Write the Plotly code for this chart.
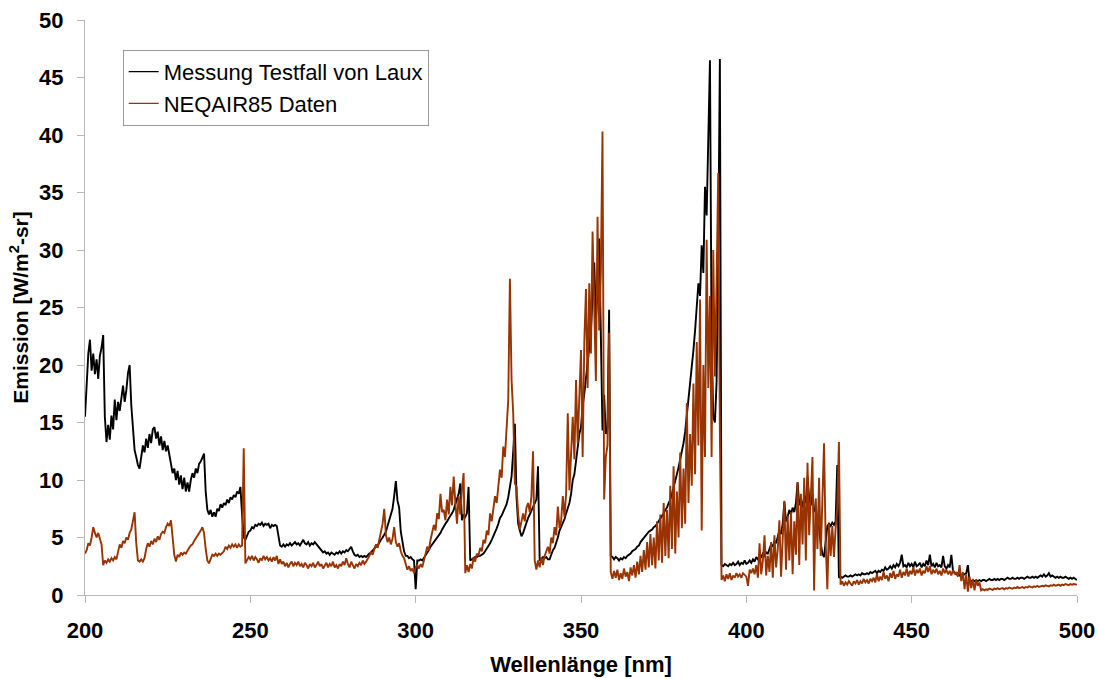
import numpy as np
import plotly.graph_objects as go

# Wavelength grid of both spectra (nm), 0.5 nm spacing
wellenlaenge = np.round(np.arange(200.0, 500.25, 0.5), 1)

# Measured emission, test case by Laux (W/m^2-sr)
messung_laux = [
    15.5, 19.0, 21.0, 22.2, 19.5, 21.0, 19.2, 20.5, 18.8, 20.8, 21.5, 22.6, 15.5, 13.3, 14.8, 13.5, 15.6, 14.4, 17.0, 15.2,  # 200
    16.8, 16.0, 17.4, 18.2, 16.8, 17.8, 19.3, 20.0, 16.5, 14.5, 12.6, 12.0, 11.3, 11.0, 12.2, 13.0, 12.4, 13.6, 12.8, 14.0,  # 210
    13.2, 14.4, 14.6, 13.6, 14.2, 13.0, 13.8, 12.6, 13.4, 12.5, 13.0, 12.3, 11.5, 10.6, 11.0, 10.0, 10.8, 9.6, 10.4, 9.2,    # 220
    10.2, 9.0, 9.8, 9.0, 10.0, 10.6, 10.2, 11.0, 10.6, 11.4, 11.6, 12.0, 12.3, 9.0, 7.4, 7.0, 7.4, 6.8, 7.2, 6.8,            # 230
    7.5, 7.3, 7.9, 7.6, 8.0, 7.8, 8.3, 8.0, 8.5, 8.3, 8.7, 8.5, 9.0, 8.8, 9.4, 7.0, 5.0, 4.8, 5.2, 5.5,                      # 240
    5.6, 5.9, 5.8, 6.1, 6.0, 6.2, 6.1, 6.3, 6.0, 6.2, 6.1, 6.2, 5.8, 6.1, 6.0, 6.1, 6.0, 5.2, 4.3, 4.2,                      # 250
    4.4, 4.2, 4.4, 4.3, 4.5, 4.3, 4.5, 4.6, 4.4, 4.5, 4.3, 4.6, 4.8, 4.5, 4.4, 4.6, 4.3, 4.5, 4.4, 4.6,                      # 260
    4.4, 4.3, 4.1, 3.9, 3.7, 3.8, 3.6, 3.7, 3.5, 3.7, 3.6, 3.5, 3.7, 3.6, 3.8, 3.6, 3.8, 3.7, 3.9, 3.8,                      # 270
    4.0, 4.2, 3.8, 3.5, 3.4, 3.5, 3.3, 3.4, 3.3, 3.4, 3.3, 3.5, 3.6, 3.7, 3.9, 4.0, 4.2, 4.3, 4.6, 4.8,                      # 280
    5.0, 5.2, 5.5, 6.0, 6.5, 7.0, 7.5, 8.6, 9.9, 8.2, 7.6, 5.5, 4.6, 3.8, 3.4, 3.4, 3.2, 3.3, 3.1, 3.0,                      # 290
    0.5, 3.0, 3.0, 3.1, 3.0, 3.2, 3.4, 3.6, 3.9, 4.2, 4.4, 4.5, 4.7, 4.9, 5.1, 5.4, 5.7, 6.0, 6.2, 6.4,                      # 300
    6.7, 6.9, 7.1, 7.4, 7.9, 8.3, 8.8, 9.7, 6.5, 7.0, 6.8, 7.1, 9.4, 3.0, 3.1, 3.2, 3.3, 3.3, 3.4, 3.4,                      # 310
    3.5, 3.6, 3.8, 4.0, 4.3, 4.5, 4.8, 5.1, 5.4, 5.8, 6.2, 6.7, 6.9, 7.2, 7.6, 7.9, 8.5, 9.3, 10.3, 12.5,                    # 320
    14.9, 8.5, 6.2, 5.6, 5.1, 5.4, 5.9, 6.4, 6.7, 7.0, 7.3, 7.6, 7.9, 8.3, 11.2, 3.0, 3.1, 3.3, 3.2, 3.3,                    # 330
    3.1, 3.1, 3.5, 3.9, 4.1, 4.5, 5.0, 5.6, 5.9, 6.3, 6.6, 7.1, 7.5, 8.0, 8.8, 10.0, 10.5, 11.8, 12.8, 14.0,                 # 340
    14.6, 16.5, 17.5, 18.8, 19.6, 21.5, 23.0, 26.0, 28.9, 24.0, 26.5, 31.0, 22.0, 14.3, 17.4, 14.0, 14.5, 24.8, 3.4, 3.3,   # 350
    3.1, 3.3, 3.2, 3.0, 3.2, 3.1, 3.3, 3.2, 3.4, 3.5, 3.6, 3.8, 3.9, 4.0, 4.2, 4.3, 4.6, 4.8, 5.0, 5.2,                      # 360
    5.3, 5.5, 5.6, 5.7, 5.9, 6.0, 6.2, 6.4, 6.6, 6.9, 7.1, 7.4, 7.6, 8.0, 8.3, 8.8, 9.3, 9.9, 10.5, 11.1,                    # 370
    11.8, 12.4, 13.2, 14.2, 15.5, 17.0, 18.6, 19.5, 21.3, 23.0, 25.0, 27.1, 26.0, 30.4, 28.0, 35.5, 33.0, 40.0, 46.5, 22.0, # 380
    15.5, 15.0, 18.5, 30.0, 46.6, 2.6, 2.5, 2.7, 2.6, 2.5, 2.7, 2.6, 2.8, 2.6, 2.7, 2.9, 2.6, 2.8, 2.7, 3.0,                 # 390
    2.7, 2.8, 3.0, 2.8, 3.1, 2.9, 3.3, 3.1, 3.4, 3.3, 3.6, 3.4, 3.7, 3.6, 4.0, 4.4, 4.2, 4.7, 4.5, 5.0,                      # 400
    5.6, 5.3, 6.2, 8.1, 6.4, 6.8, 7.4, 7.0, 7.6, 7.2, 8.0, 9.8, 7.8, 8.3, 7.6, 8.6, 8.0, 10.3, 8.4, 7.8,                     # 410
    8.8, 7.4, 7.2, 6.6, 5.8, 4.5, 3.6, 3.3, 5.0, 6.0, 6.2, 6.0, 6.3, 6.1, 6.4, 11.3, 1.5, 1.6, 1.5, 1.6,                     # 420
    1.7, 1.6, 1.6, 1.7, 1.6, 1.7, 1.8, 1.7, 1.8, 1.7, 1.9, 1.8, 1.8, 1.9, 1.8, 2.0, 1.9, 2.0, 2.1, 1.9,                      # 430
    2.1, 2.0, 2.2, 2.1, 2.4, 2.2, 2.3, 2.5, 2.3, 2.6, 2.4, 2.7, 2.5, 2.8, 3.5, 2.5, 2.6, 2.4, 2.8, 2.5,                      # 440
    2.7, 2.4, 2.9, 2.5, 2.6, 2.8, 2.4, 2.7, 2.5, 3.0, 2.6, 3.5, 2.5, 2.7, 2.4, 2.8, 2.5, 2.6, 2.4, 3.4,                      # 450
    2.5, 2.3, 2.6, 2.4, 3.5, 2.1, 1.9, 1.8, 1.9, 1.7, 1.8, 1.7, 1.8, 1.9, 2.6, 1.2, 1.2, 1.3, 1.2, 1.3,                      # 460
    1.2, 1.3, 1.2, 1.3, 1.3, 1.2, 1.3, 1.4, 1.3, 1.3, 1.4, 1.3, 1.4, 1.3, 1.4, 1.4, 1.3, 1.4, 1.5, 1.4,                      # 470
    1.4, 1.5, 1.4, 1.4, 1.5, 1.4, 1.5, 1.5, 1.4, 1.5, 1.6, 1.5, 1.5, 1.6, 1.5, 1.6, 1.5, 1.6, 1.7, 1.6,                      # 480
    1.8, 1.6, 1.7, 1.9, 1.6, 1.7, 1.6, 1.5, 1.6, 1.5, 1.6, 1.5, 1.5, 1.6, 1.5, 1.4, 1.5, 1.4, 1.5, 1.4,                      # 490
    1.3,                                                                                                                     # 500
]

# NEQAIR85 computed emission (W/m^2-sr)
neqair85 = [
    3.6, 3.9, 4.5, 4.3, 5.0, 5.9, 5.4, 5.0, 5.4, 4.9, 4.4, 2.6, 3.0, 2.8, 3.1, 2.9, 3.2, 3.0, 3.3, 3.1,                      # 200
    3.8, 4.4, 4.1, 4.7, 4.5, 5.0, 4.8, 5.4, 5.7, 6.4, 7.2, 4.5, 3.0, 2.9, 3.1, 2.9, 3.2, 4.0, 4.5, 4.2,                      # 210
    4.7, 4.4, 4.9, 4.6, 5.1, 4.8, 5.3, 5.5, 5.4, 5.9, 6.2, 6.0, 6.5, 5.0, 3.5, 2.9, 3.5, 3.3, 3.7, 3.5,                      # 220
    3.7, 3.6, 3.9, 4.1, 4.3, 4.4, 4.7, 4.9, 5.1, 5.3, 5.6, 5.9, 5.4, 4.0, 3.0, 2.75, 3.2, 3.5, 3.4, 3.6,                     # 230
    3.4, 3.6, 3.5, 3.7, 3.8, 4.2, 4.0, 4.3, 4.1, 4.4, 4.2, 4.4, 4.1, 4.4, 4.2, 4.3, 12.75, 2.75, 3.0, 3.3,                   # 240
    3.1, 3.4, 3.0, 3.3, 3.1, 2.8, 3.2, 3.0, 3.4, 3.1, 3.3, 3.0, 3.2, 2.9, 3.3, 3.0, 3.4, 2.7, 3.1, 2.7,                      # 250
    2.9, 2.5, 2.8, 2.4, 2.7, 2.9, 2.5, 2.8, 2.6, 2.9, 2.5, 2.7, 2.4, 2.8, 2.6, 2.3, 2.7, 2.5, 2.8, 2.4,                      # 260
    2.6, 2.9, 2.5, 2.7, 2.3, 2.6, 2.8, 2.4, 2.7, 2.5, 2.9, 2.4, 2.6, 2.3, 2.7, 2.5, 2.9, 2.6, 3.2, 2.7,                      # 270
    2.4, 2.9, 2.6, 2.3, 2.7, 2.5, 2.8, 2.6, 3.0, 2.7, 2.9, 3.1, 3.4, 3.7, 3.5, 4.0, 4.4, 4.1, 4.9, 5.4,                      # 280
    6.2, 7.5, 5.2, 4.6, 5.0, 4.4, 4.9, 5.9, 4.6, 4.2, 4.5, 3.8, 3.4, 3.2, 2.6, 2.2, 2.5, 2.1, 2.3, 1.9,                      # 290
    2.4, 2.6, 2.3, 2.7, 2.4, 2.9, 3.6, 4.2, 3.9, 4.8, 5.4, 6.1, 5.6, 7.1, 6.6, 8.8, 7.2, 7.4, 6.5, 8.3,                      # 300
    7.0, 9.4, 7.8, 10.3, 8.0, 6.2, 8.6, 7.0, 9.2, 10.6, 1.9, 2.6, 2.0, 2.7, 2.3, 3.3, 2.9, 3.6, 3.4, 4.1,                    # 310
    3.8, 4.8, 4.5, 5.6, 5.2, 7.1, 6.4, 7.6, 8.6, 8.0, 9.4, 10.9, 10.2, 12.9, 12.0, 14.6, 17.0, 27.5, 18.7, 15.8,             # 320
    9.7, 9.4, 7.0, 5.7, 6.5, 7.1, 6.4, 7.6, 8.0, 7.2, 8.6, 12.5, 3.0, 2.2, 3.0, 2.4, 3.3, 2.6, 3.4, 3.9,                     # 330
    4.2, 3.6, 5.0, 4.5, 5.9, 5.2, 7.7, 5.8, 6.5, 8.6, 6.8, 8.8, 15.8, 9.1, 12.0, 15.5, 11.8, 18.7, 13.2, 16.7,               # 340
    21.3, 12.0, 22.0, 26.6, 18.0, 27.1, 21.0, 31.6, 24.0, 18.6, 32.9, 23.0, 28.0, 40.3, 8.3, 12.0, 13.0, 22.8, 2.0, 1.4,     # 350
    2.1, 1.5, 2.2, 1.3, 1.9, 1.4, 2.3, 1.6, 2.0, 1.2, 2.4, 1.7, 2.6, 1.5, 2.9, 1.8, 3.4, 2.0, 3.9, 2.2,                      # 360
    4.6, 2.4, 5.3, 2.6, 5.0, 2.3, 6.4, 3.0, 7.0, 2.8, 8.0, 3.4, 7.4, 3.2, 9.5, 4.0, 11.2, 3.6, 9.0, 5.0,                     # 370
    12.4, 5.8, 11.0, 6.2, 16.7, 8.0, 14.0, 9.5, 18.4, 10.5, 22.0, 13.0, 25.7, 5.6, 20.0, 12.0, 30.9, 18.0, 26.0, 12.0,       # 380
    30.0, 19.0, 27.1, 36.7, 14.0, 1.3, 1.7, 1.2, 1.8, 1.4, 1.9, 1.3, 1.7, 1.5, 1.9, 1.6, 1.8, 1.5, 1.9, 1.7,                 # 390
    1.6, 0.8, 2.2, 1.9, 2.3, 1.8, 2.6, 1.5, 4.5, 1.8, 3.0, 5.2, 1.7, 3.4, 2.0, 4.6, 1.5, 5.2, 2.4, 4.0,                      # 400
    6.5, 1.6, 5.8, 8.2, 2.2, 6.9, 3.0, 7.2, 1.8, 6.4, 3.5, 9.8, 2.6, 8.8, 4.4, 10.2, 3.0, 11.5, 5.2, 9.0,                    # 410
    12.0, 0.4, 8.4, 4.0, 10.2, 3.4, 9.0, 13.2, 4.5, 0.5, 6.2, 3.4, 6.0, 3.3, 5.8, 7.6, 13.3, 0.9, 1.2, 0.8,                  # 420
    1.1, 0.9, 1.2, 1.0, 0.8, 1.2, 1.0, 1.3, 0.9, 1.2, 1.0, 1.4, 1.1, 1.3, 1.0, 1.4, 1.2, 1.5, 1.1, 1.8,                      # 430
    1.2, 1.6, 1.3, 2.0, 1.4, 1.7, 1.2, 1.9, 1.5, 2.1, 1.4, 1.8, 1.6, 2.2, 1.5, 2.0, 1.7, 2.3, 1.6, 2.1,                      # 440
    1.8, 2.4, 1.7, 2.2, 1.9, 2.3, 1.7, 2.1, 1.9, 2.5, 2.0, 2.5, 1.8, 2.2, 1.9, 2.3, 1.8, 2.1, 1.7, 2.3,                      # 450
    1.9, 2.2, 1.8, 2.1, 1.7, 2.2, 1.8, 2.0, 1.6, 2.6, 1.2, 2.0, 0.5, 1.8, 0.3, 1.6, 0.6, 1.4, 0.4, 1.3,                      # 460
    0.8, 1.1, 0.4, 0.5, 0.4, 0.5, 0.45, 0.55, 0.5, 0.45, 0.55, 0.5, 0.6, 0.5, 0.55, 0.6, 0.5, 0.6, 0.55, 0.65,               # 470
    0.6, 0.55, 0.65, 0.6, 0.7, 0.6, 0.65, 0.7, 0.6, 0.7, 0.65, 0.75, 0.7, 0.65, 0.75, 0.7, 0.8, 0.7, 0.75, 0.8,              # 480
    0.75, 0.85, 0.8, 0.75, 0.85, 0.8, 0.9, 0.8, 0.85, 0.9, 0.8, 0.9, 0.85, 0.95, 0.9, 0.85, 0.95, 0.9, 0.95, 0.9,            # 490
    0.9,                                                                                                                     # 500
]

x_ticks = [200, 250, 300, 350, 400, 450, 500]
y_ticks = [0, 5, 10, 15, 20, 25, 30, 35, 40, 45, 50]

series_names = ["Messung Testfall von Laux", "NEQAIR85 Daten"]
series_colors = ["#000000", "#993300"]

assert len(messung_laux) == len(wellenlaenge) == len(neqair85)

FAMILY = "Liberation Sans, Arial, sans-serif"
BOLD_22 = dict(family=FAMILY, size=22, color="#000000", weight="bold")
AXIS_GREY = "#b8b8b8"

fig = go.Figure()

# spectra (drawn with the heavier stroke, kept out of the legend)
for name, color, values in zip(series_names, series_colors, [messung_laux, neqair85]):
    fig.add_trace(go.Scatter(
        x=wellenlaenge, y=values, mode="lines", name=name,
        line=dict(color=color, width=1.9), showlegend=False,
    ))

# legend entries with a thin key line
for name, color in zip(series_names, series_colors):
    fig.add_trace(go.Scatter(
        x=[None], y=[None], mode="lines", name=name,
        line=dict(color=color, width=1.2), showlegend=True,
    ))

fig.update_xaxes(
    range=[200, 500], tickmode="array", tickvals=x_ticks,
    ticks="outside", ticklen=7, tickcolor=AXIS_GREY, tickwidth=1,
    showline=True, linecolor=AXIS_GREY, linewidth=1,
    showgrid=False, zeroline=False, automargin=False,
    tickfont=BOLD_22, ticklabelstandoff=9,
    title=dict(text="Wellenlänge [nm]", font=BOLD_22, standoff=14),
)
fig.update_yaxes(
    range=[0, 50], tickmode="array", tickvals=y_ticks,
    ticks="outside", ticklen=7, tickcolor=AXIS_GREY, tickwidth=1,
    showline=True, linecolor=AXIS_GREY, linewidth=1,
    showgrid=False, zeroline=False, automargin=False,
    tickfont=BOLD_22, ticklabelstandoff=9,
    title=dict(text="Emission [W/m<sup>2</sup>-sr]",
               font=dict(family=FAMILY, size=21, color="#000000", weight="bold"),
               standoff=4),
)

fig.update_layout(
    width=1100, height=679,
    margin=dict(l=85, r=23, t=20, b=84, autoexpand=False),
    paper_bgcolor="#ffffff", plot_bgcolor="#ffffff",
    showlegend=True,
    legend=dict(
        x=0.038, y=0.948, xanchor="left", yanchor="top",
        bgcolor="#ffffff", bordercolor="#9a9a9a", borderwidth=1,
        font=dict(family=FAMILY, size=22, color="#000000"),
        tracegroupgap=0, itemwidth=30,
    ),
)

fig.write_html("out.html")
